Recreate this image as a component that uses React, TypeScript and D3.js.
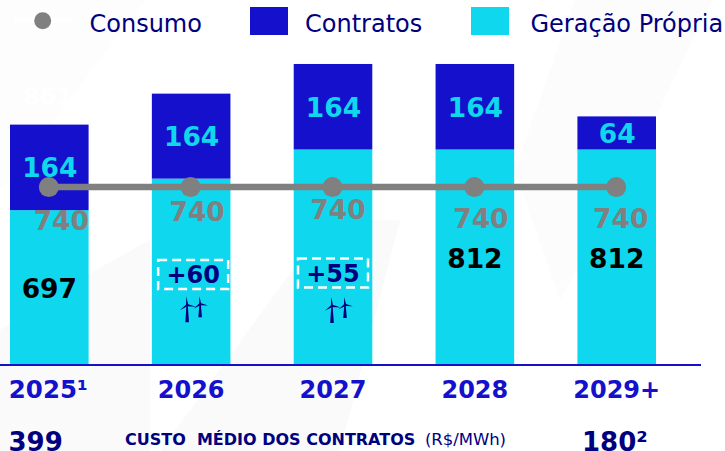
import React from "react";
import * as d3 from "d3";

// Categories and labels as printed
const years = ["2025", "2026", "2027", "2028", "2029+"];
const generationLabels = ["697", "", "", "812", "812"];
const contractLabels = ["164", "164", "164", "164", "64"];
const consumptionLabels = ["740", "740", "740", "740", "740"];
// Drawn bar lengths (the source bars are not strictly to scale)
const generationDrawn = [583, 702, 812, 812, 812];
const contractDrawn = [323, 321, 323, 323, 125];
const consumptionDrawn = [670, 670, 670, 670, 670];
// Where the labels sit on the same scale
const consumptionLabelDrawn = [508, 542, 550, 516, 516];
const consumptionLabelShift = [12, 6, 5, 6, 4];
const generationLabelDrawn = [251, 0, 0, 365, 365];
const additions = [null, "+60", "+55", null, null];
const additionsDrawn = [0, 340, 345.5, 0, 0];
const additionsShift = [0, 2, 0, 0, 0];
const turbinesDrawn = [0, 160, 157, 0, 0];
const turbinesShift = [0, -4, -1, 0, 0];

const W = 725, H = 451;
const DARK = "#1410CC", CYAN = "#0FD8EE", GREY = "#808080", NAVY = "#00007F";
const FONT = "'DejaVu Sans', Verdana, sans-serif";

const x = d3.scaleBand<string>().domain(years).range([10, 656]).paddingInner(0.446).paddingOuter(0);
const y = d3.scaleLinear().domain([0, 812]).range([364.5, 149.5]);

function Turbine({ cx, cy, h, L }: { cx: number; cy: number; h: number; L: number }) {
  const tower = d3.line()([[-1.8, 0], [1.8, 0], [0.7, -h], [-0.7, -h]]) + "Z";
  const blade = (a: number) => {
    const r = (a * Math.PI) / 180;
    const nx = Math.cos(r) * 1.1, ny = Math.sin(r) * 1.1;
    const pts: [number, number][] = [[nx, -h + ny], [Math.sin(r) * L, -h - Math.cos(r) * L], [-nx, -h - ny]];
    return <path key={a} d={d3.line()(pts) + "Z"} fill={NAVY} />;
  };
  return (
    <g transform={`translate(${cx},${cy})`}>
      <path d={tower} fill={NAVY} />
      {blade(-5)}{blade(100)}{blade(235)}
    </g>
  );
}

export default function App() {
  const bw = x.bandwidth();
  return (
    <svg width={W} height={H} viewBox={`0 0 ${W} ${H}`} style={{ position: "absolute", left: 0, top: 0, display: "block" }} fontFamily={FONT}>
      <rect width={W} height={H} fill="#fff" />
      <polygon points="0,451 0,330 60,290 150,240 150,451" fill="#fafafb" />
      <polygon points="0,190 0,0 145,0" fill="#fdfdfd" />
      <polygon points="160,451 300,260 340,220 400,220 340,451" fill="#fafafb" />
      <polygon points="515,170 575,0 712,0 620,190 560,300" fill="#fcfcfd" />

      {/* legend */}
      <line x1={14} x2={72} y1={20.5} y2={20.5} stroke="#fff" strokeWidth={5} />
      <circle cx={42.7} cy={20.7} r={8.5} fill={GREY} />
      <text x={89.5} y={31.5} fontSize={24} fill={NAVY}>Consumo</text>
      <rect x={250} y={7} width={38} height={28} fill={DARK} />
      <text x={305} y={31.5} fontSize={24} fill={NAVY}>Contratos</text>
      <rect x={471} y={7} width={38} height={28} fill={CYAN} />
      <text x={530.5} y={31.5} fontSize={24} fill={NAVY}>Geração Própria</text>

      <text x={48} y={105} fontSize={24} fontWeight={700} fill="#fff" textAnchor="middle">861</text>

      {years.map((yr, i) => {
        const bx = x(yr)!;
        const c = bx + bw / 2;
        const t0 = y(generationDrawn[i]);
        const t1 = y(generationDrawn[i] + contractDrawn[i]);
        return (
          <g key={yr}>
            <rect x={bx} y={t0} width={bw} height={y(0) - t0} fill={CYAN} />
            <rect x={bx} y={t1} width={bw} height={t0 - t1} fill={DARK} />
            <text x={c + 0.5} y={(t0 + t1) / 2 + 10} fontSize={26.5} fontWeight={700} fill={CYAN} textAnchor="middle">{contractLabels[i]}</text>
          </g>
        );
      })}

      {/* consumption line */}
      <path d={d3.line<number>().x((_, i) => x(years[i])! + bw / 2 - 0.5).y(d => y(d))(consumptionDrawn)!} stroke={GREY} strokeWidth={6.5} fill="none" />
      {years.map((yr, i) => <circle key={yr} cx={x(yr)! + bw / 2 - 0.5} cy={y(consumptionDrawn[i])} r={10} fill={GREY} />)}

      {years.map((yr, i) => {
        const c = x(yr)! + bw / 2;
        const add = additions[i];
        const ac = c + additionsShift[i];
        const ay = y(additionsDrawn[i]);
        return (
          <g key={yr}>
            <text x={c + consumptionLabelShift[i]} y={y(consumptionLabelDrawn[i])} fontSize={26.5} fontWeight={700} fill={GREY} textAnchor="middle">{consumptionLabels[i]}</text>
            {generationLabels[i] && <text x={c} y={y(generationLabelDrawn[i])} fontSize={26.5} fontWeight={700} fill="#000" textAnchor="middle">{generationLabels[i]}</text>}
            {add && (
              <g>
                <rect x={ac - 35} y={ay - 14.5} width={70} height={29} fill="none" stroke="#fff" strokeWidth={2.5} strokeDasharray="9 5" />
                <text x={ac} y={ay + 8.5} fontSize={24} fontWeight={700} fill={NAVY} textAnchor="middle">{add}</text>
                <Turbine cx={c + turbinesShift[i]} cy={y(turbinesDrawn[i])} h={17} L={9} />
                <Turbine cx={c + turbinesShift[i] + 13} cy={y(turbinesDrawn[i]) - 5} h={13} L={8} />
              </g>
            )}
          </g>
        );
      })}

      <line x1={0} x2={701} y1={365} y2={365} stroke={DARK} strokeWidth={2} />

      {years.map((yr, i) => (
        <text key={yr} x={x(yr)! + bw / 2 + (i === 0 ? -1 : 0)} y={398} fontSize={i === 0 ? 24.5 : 24} fontWeight={700} fill={DARK} textAnchor="middle">
          {yr}{i === 0 ? "¹" : ""}
        </text>
      ))}

      <text x={8.5} y={450.5} fontSize={26} fontWeight={700} fill={NAVY}>399</text>
      <text x={125} y={445} fontSize={16} fontWeight={700} fill={NAVY} style={{ whiteSpace: "pre" }}>{"CUSTO  MÉDIO DOS CONTRATOS"}</text>
      <text x={425} y={445} fontSize={16.5} fill={NAVY} textLength={81}>(R$/MWh)</text>
      <text x={582} y={450.5} fontSize={26} fontWeight={700} fill={NAVY}>180²</text>
    </svg>
  );
}
